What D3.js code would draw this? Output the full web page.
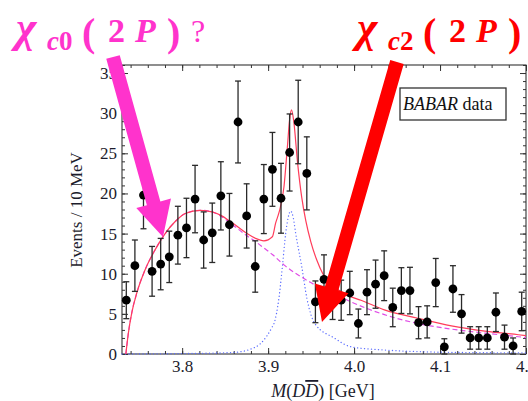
<!DOCTYPE html>
<html>
<head>
<meta charset="utf-8">
<script src="https://cdnjs.cloudflare.com/ajax/libs/d3/7.8.5/d3.min.js"></script>
<style>
  body { margin: 0; background: #fff; }
  svg text { font-family: "Liberation Serif", "Times New Roman", serif; }
</style>
</head>
<body>
<svg id="plot" width="528" height="401"></svg>
<script>
// bin centres (GeV) and BABAR counts per 10 MeV
var mass = [3.735, 3.745, 3.755, 3.765, 3.775, 3.785, 3.795, 3.805, 3.815, 3.825,
            3.835, 3.845, 3.855, 3.865, 3.875, 3.885, 3.895, 3.905, 3.915, 3.925,
            3.935, 3.945, 3.955, 3.965, 3.975, 3.985, 3.995, 4.005, 4.015, 4.025,
            4.035, 4.045, 4.055, 4.065, 4.075, 4.085, 4.095, 4.105, 4.115, 4.125,
            4.135, 4.145, 4.155, 4.165, 4.175, 4.185, 4.195];
var events = [6.7, 11.0, 19.8, 10.3, 11.2, 12.1, 14.8, 15.7, 19.3, 14.2,
              15.1, 19.7, 16.1, 28.9, 17.2, 10.9, 19.3, 23.0, 19.4, 25.1,
              28.9, 22.5, 6.5, 9.3, 7.0, 6.7, 7.6, 3.8, 7.7, 8.7,
              9.75, 5.8, 7.9, 7.9, 3.9, 4.0, 8.9, 0.9, 8.1, 5.0,
              2.0, 2.0, 2.0, 5.2, 2.1, 1.0, 5.3];
var errors = [2.3, 3.2, 4.2, 3.1, 3.2, 3.2, 3.6, 3.7, 4.2, 3.5,
              3.7, 4.25, 3.9, 5.1, 4.0, 3.2, 4.3, 4.6, 4.35, 4.8,
              5.2, 4.55, 2.6, 3.05, 2.7, 2.5, 2.7, 1.8, 2.8, 3.0,
              3.1, 2.4, 2.85, 2.9, 2.0, 2.0, 3.0, 1.0, 2.9, 2.4,
              1.4, 1.4, 1.4, 2.4, 1.5, 1.0, 2.4];

// fit curves, sampled from the figure
var totalMass = [3.7345, 3.7374, 3.7413, 3.7472, 3.7569, 3.7686, 3.7802, 3.7919, 3.8036, 3.8211,
                 3.8348, 3.8445, 3.8562, 3.8757, 3.8854, 3.8951, 3.9049, 3.9087, 3.9126, 3.9184,
                 3.9224, 3.925, 3.9272, 3.9298, 3.9341, 3.9391, 3.9438, 3.9496, 3.9566, 3.9636,
                 3.9768, 3.9925, 4.008, 4.0353, 4.0743, 4.1132, 4.1521, 4.1911, 4.2];
var totalFit = [0, 2.6, 5.1, 7.6, 10.5, 13.0, 15.0, 16.5, 17.5, 17.9,
                17.7, 17.3, 16.5, 15.0, 14.4, 14.1, 14.6, 16.3, 17.6, 20.8,
                25.8, 29.2, 30.4, 29.0, 24.0, 19.5, 16.6, 14.0, 11.7, 10.0,
                8.4, 7.3, 6.7, 5.5, 4.45, 3.5, 2.85, 2.4, 2.3];
var bkgMass = [3.7345, 3.7374, 3.7413, 3.7472, 3.7569, 3.7686, 3.7802, 3.7919, 3.8036, 3.8211,
               3.8348, 3.8445, 3.8562, 3.8757, 3.8854, 3.8951, 3.9049, 3.9184, 3.9341, 3.9496,
               3.9636, 3.9768, 3.9963, 4.0353, 4.0743, 4.1132, 4.1521, 4.1911, 4.2];
var bkgFit = [0, 2.6, 5.1, 7.6, 10.5, 13.0, 15.0, 16.5, 17.5, 17.9,
              17.7, 17.2, 16.3, 14.7, 14.0, 13.2, 12.4, 11.1, 9.9, 8.9,
              8.1, 7.5, 6.5, 4.9, 3.8, 3.1, 2.6, 2.15, 2.05];
var sigMass = [3.73, 3.80, 3.8598, 3.8795, 3.8912, 3.9049, 3.9068, 3.9126, 3.9166, 3.9204,
               3.9233, 3.9263, 3.9292, 3.9321, 3.9391, 3.945, 3.9543, 3.9768, 3.9963, 4.0353,
               4.0743, 4.1521, 4.2];
var sigFit = [0, 0.05, 0.2, 0.6, 1.3, 3.4, 3.8, 7.0, 10.9, 15.0,
              17.0, 17.8, 17.0, 15.0, 10.9, 7.0, 3.8, 2.0, 0.9, 0.5,
              0.3, 0.16, 0.14];

var xMajor = [3.8, 3.9, 4.0, 4.1, 4.2];
var yMajor = [0, 5, 10, 15, 20, 25, 30, 35];

var svg = d3.select("#plot");
var pl = 122, pr = 526, pt = 65, pb = 354;

var x = d3.scaleLinear().domain([3.73, 4.2]).range([pl, pr]);
var y = d3.scaleLinear().domain([0, 36]).range([pb, pt]);

var xMinor = d3.range(3.74, 4.2001, 0.02);
var yMinor = d3.range(0, 37, 1);

function tidy(g, labels) {
	g.select(".domain").remove();
	g.selectAll("line").attr("stroke", "#333").attr("stroke-width", 1);
	g.attr("font-family", "Liberation Serif, serif").attr("font-size", 17);
	g.selectAll("text").attr("fill", "#1c1c2c");
	if (!labels) g.selectAll("text").remove();
}

// minor ticks
svg.append("g").attr("transform", "translate(0," + pb + ")")
	.call(d3.axisBottom(x).tickValues(xMinor).tickSize(-3)).call(tidy, false);
svg.append("g").attr("transform", "translate(0," + pt + ")")
	.call(d3.axisTop(x).tickValues(xMinor).tickSize(-3)).call(tidy, false);
svg.append("g").attr("transform", "translate(" + pl + ",0)")
	.call(d3.axisLeft(y).tickValues(yMinor).tickSize(-3)).call(tidy, false);
svg.append("g").attr("transform", "translate(" + pr + ",0)")
	.call(d3.axisRight(y).tickValues(yMinor).tickSize(-3)).call(tidy, false);

// major ticks + labels
svg.append("g").attr("transform", "translate(0," + pb + ")")
	.call(d3.axisBottom(x).tickValues(xMajor).tickSize(-6).tickPadding(6).tickFormat(d3.format(".1f")))
	.call(tidy, true);
svg.append("g").attr("transform", "translate(0," + pt + ")")
	.call(d3.axisTop(x).tickValues(xMajor).tickSize(-6)).call(tidy, false);
svg.append("g").attr("transform", "translate(" + pl + ",0)")
	.call(d3.axisLeft(y).tickValues(yMajor).tickSize(-6).tickPadding(5)).call(tidy, true);
svg.append("g").attr("transform", "translate(" + pr + ",0)")
	.call(d3.axisRight(y).tickValues(yMajor).tickSize(-6)).call(tidy, false);

svg.append("rect").attr("x", pl).attr("y", pt)
	.attr("width", pr - pl).attr("height", pb - pt)
	.attr("fill", "none").attr("stroke", "#333").attr("stroke-width", 1.1);

// axis titles
svg.append("text")
	.attr("transform", "translate(82,210) rotate(-90)")
	.attr("text-anchor", "middle").attr("font-size", 17).attr("fill", "#1c1c2c")
	.text("Events / 10 MeV");

var xt = svg.append("text").attr("x", 323).attr("y", 397)
	.attr("text-anchor", "middle").attr("font-size", 18).attr("fill", "#1c1c2c");
xt.append("tspan").attr("font-style", "italic").text("M");
xt.append("tspan").text("(");
xt.append("tspan").attr("font-style", "italic").text("D");
xt.append("tspan").attr("font-style", "italic").style("text-decoration", "overline").text("D");
xt.append("tspan").text(") [GeV]");

// fit curves
var line = d3.line().x(function(d){ return x(d[0]); }).y(function(d){ return y(d[1]); })
	.curve(d3.curveMonotoneX);

svg.append("path").datum(d3.zip(sigMass, sigFit)).attr("d", line)
	.attr("fill", "none").attr("stroke", "#5a6cff").attr("stroke-width", 1.3)
	.attr("stroke-dasharray", "0.1,3.4").attr("stroke-linecap", "round");
svg.append("path").datum(d3.zip(bkgMass, bkgFit)).attr("d", line)
	.attr("fill", "none").attr("stroke", "#e04ce6").attr("stroke-width", 1.2)
	.attr("stroke-dasharray", "5,3");
svg.append("path").datum(d3.zip(totalMass, totalFit)).attr("d", line)
	.attr("fill", "none").attr("stroke", "#ff3c5a").attr("stroke-width", 1.2);

// data points with error bars
var pts = d3.zip(mass, events, errors);
var eb = svg.append("g").attr("stroke", "#2a2a2a").attr("stroke-width", 1.3);
eb.selectAll(".bar").data(pts).enter().append("line")
	.attr("x1", function(d){ return x(d[0]); }).attr("x2", function(d){ return x(d[0]); })
	.attr("y1", function(d){ return y(Math.max(0, d[1] - d[2])); })
	.attr("y2", function(d){ return y(d[1] + d[2]); });
eb.selectAll(".capt").data(pts).enter().append("line")
	.attr("x1", function(d){ return x(d[0]) - 3; }).attr("x2", function(d){ return x(d[0]) + 3; })
	.attr("y1", function(d){ return y(d[1] + d[2]); }).attr("y2", function(d){ return y(d[1] + d[2]); });
eb.selectAll(".capb").data(pts).enter().append("line")
	.attr("x1", function(d){ return x(d[0]) - 3; }).attr("x2", function(d){ return x(d[0]) + 3; })
	.attr("y1", function(d){ return y(Math.max(0, d[1] - d[2])); })
	.attr("y2", function(d){ return y(Math.max(0, d[1] - d[2])); });
svg.append("g").selectAll("circle").data(pts).enter().append("circle")
	.attr("cx", function(d){ return x(d[0]); }).attr("cy", function(d){ return y(d[1]); })
	.attr("r", 4.4).attr("fill", "#000");

// legend box
svg.append("rect").attr("x", 400).attr("y", 88).attr("width", 106).attr("height", 32)
	.attr("fill", "#fff").attr("stroke", "#333").attr("stroke-width", 1.3);
var lg = svg.append("text").attr("x", 403).attr("y", 109.5).attr("font-size", 18).attr("fill", "#111");
lg.append("tspan").attr("font-style", "italic").text("BABAR");
lg.append("tspan").text(" data");

// annotation arrows
function arrow(x0, y0, x1, y1, sw, hw, hl) {
	var dx = x1 - x0, dy = y1 - y0, L = Math.sqrt(dx*dx + dy*dy);
	var ux = dx / L, uy = dy / L, px = -uy, py = ux;
	var bx = x1 - ux*hl, by = y1 - uy*hl;
	var p = [
		[x0 + px*sw/2, y0 + py*sw/2], [bx + px*sw/2, by + py*sw/2], [bx + px*hw/2, by + py*hw/2],
		[x1, y1],
		[bx - px*hw/2, by - py*hw/2], [bx - px*sw/2, by - py*sw/2], [x0 - px*sw/2, y0 - py*sw/2]
	];
	return "M" + p.map(function(q){ return q[0] + "," + q[1]; }).join("L") + "Z";
}
svg.append("path").attr("d", arrow(113, 57, 163, 237, 14, 36, 35)).attr("fill", "#ff33cc");
svg.append("path").attr("d", arrow(397, 62, 322, 322, 14, 35, 35)).attr("fill", "#ff0000");

// annotation labels
function label(col, x0, sub, q) {
	var t = svg.append("text").attr("fill", col).attr("font-family", "DejaVu Serif, serif");
	t.append("tspan").attr("x", x0 - 2).attr("y", 42).attr("font-size", 44).attr("font-style", "italic").attr("font-weight", "bold").text("χ");
	t.append("tspan").attr("x", x0 + 29).attr("y", 50).attr("font-size", 27).attr("font-style", "italic").attr("font-weight", "bold").text("c");
	t.append("tspan").attr("y", 50).attr("font-size", 27).attr("font-weight", "bold").text(sub);
	t.append("tspan").attr("x", x0 + 64).attr("y", 46).attr("font-size", 40).attr("font-weight", "bold").text("(");
	t.append("tspan").attr("x", x0 + 90).attr("y", 42).attr("font-size", 34).attr("font-weight", "bold").text("2");
	t.append("tspan").attr("x", x0 + 117).attr("y", 42).attr("font-size", 34).attr("font-weight", "bold").attr("font-style", "italic").text("P");
	t.append("tspan").attr("x", x0 + 149).attr("y", 46).attr("font-size", 40).attr("font-weight", "bold").text(")");
	if (q) t.append("tspan").attr("x", x0 + 173).attr("y", 42).attr("font-size", 32).text("?");
}
label("#ff33cc", 18, "0", true);
label("#ff0000", 359, "2", false);
</script>
</body>
</html>
